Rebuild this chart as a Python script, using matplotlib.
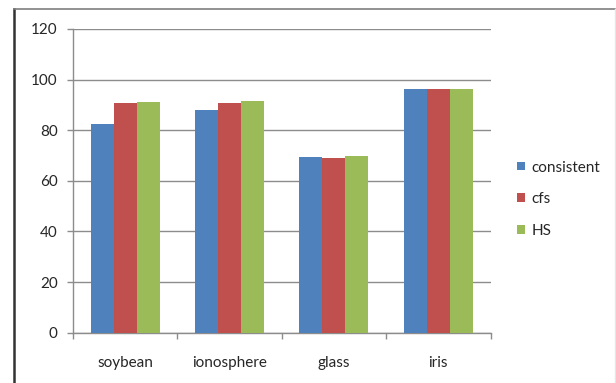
import matplotlib
matplotlib.use("Agg")
import matplotlib.pyplot as plt
import numpy as np
from matplotlib.lines import Line2D

categories = ["soybean", "ionosphere", "glass", "iris"]
series_names = ["consistent", "cfs", "HS"]
consistent = [82.5, 87.9, 69.4, 96.1]
cfs = [90.7, 90.9, 69.0, 96.1]
hs = [91.2, 91.6, 69.7, 96.1]
yticks = [0, 20, 40, 60, 80, 100, 120]

colors = ["#4F81BD", "#C0504D", "#9BBB59"]
grid_color = "#8C8C8C"
text_color = "#262626"
fs = 11

plt.rcParams["font.family"] = ["Lato", "DejaVu Sans"]

W, H = 616, 383
fig = plt.figure(figsize=(W / 100, H / 100), dpi=100)
fig.patch.set_facecolor("white")

# plot area in pixel coordinates
left, right, top, bottom = 73, 490.5, 29, 332.7
ax = fig.add_axes([left / W, 1 - bottom / H, (right - left) / W, (bottom - top) / H])

x = np.arange(len(categories))
width = 0.22
for i, (vals, name) in enumerate(zip([consistent, cfs, hs], series_names)):
    ax.bar(x + (i - 1) * width, vals, width, color=colors[i], label=name,
           zorder=3, linewidth=0)

ax.set_xlim(-0.5, len(categories) - 0.5)
ax.set_ylim(0, 120)
ax.set_yticks(yticks)
ax.set_yticklabels([str(t) for t in yticks])
ax.yaxis.grid(True, color=grid_color, linewidth=1.0, zorder=0)
ax.set_axisbelow(True)

ax.set_xticks(x)
ax.set_xticklabels(categories)
ax.set_xticks(np.arange(len(categories) + 1) - 0.5, minor=True)
ax.tick_params(axis="x", which="major", length=0, pad=17,
               labelsize=fs, labelcolor=text_color)
ax.tick_params(axis="x", which="minor", length=4, width=1, color=grid_color,
               direction="out")
ax.tick_params(axis="y", length=4, width=1, color=grid_color, pad=7,
               labelsize=fs, labelcolor=text_color)

for s in ["top", "right"]:
    ax.spines[s].set_visible(False)
for s in ["left", "bottom"]:
    ax.spines[s].set_color(grid_color)
    ax.spines[s].set_linewidth(1.0)

leg = ax.legend(loc="center left", bbox_to_anchor=(1.031, 0.44), frameon=False,
                fontsize=fs, handlelength=0.5, handleheight=0.5,
                handletextpad=0.45, labelspacing=1.15, labelcolor=text_color)

# outer frame
fig.add_artist(Line2D([13.5 / W, 13.5 / W], [0, 1 - 8.5 / H],
                      transform=fig.transFigure, color="#333333", linewidth=1.8))
fig.add_artist(Line2D([13.5 / W, 615 / W], [1 - 8.5 / H, 1 - 8.5 / H],
                      transform=fig.transFigure, color="#7F7F7F", linewidth=1.2))
fig.add_artist(Line2D([615 / W, 615 / W], [0, 1 - 8.5 / H],
                      transform=fig.transFigure, color="#E6E6E6", linewidth=1.0))

fig.savefig("out.png", dpi=100, facecolor="white")
